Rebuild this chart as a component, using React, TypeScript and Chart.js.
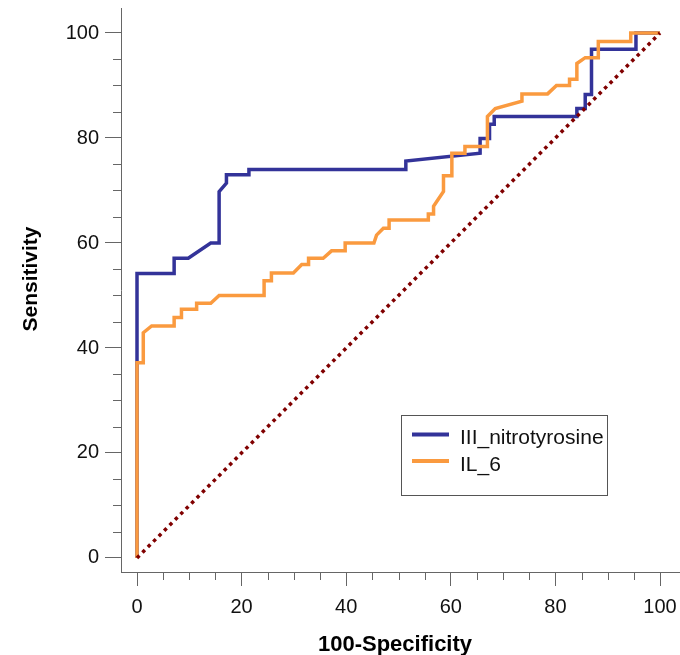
import React, { useEffect, useRef } from "react";
import { Chart, registerables } from "chart.js";

Chart.register(...registerables);

// ---------- data ----------
const seriesNames = ["III_nitrotyrosine", "IL_6"];

const nitroX = [0, 0, 7.1, 7.1, 9.8, 14.1, 15.7, 15.7, 17.1, 17.1, 21.4, 21.4, 51.4, 51.4, 65.6, 65.6, 67.4, 67.4, 68.3, 68.3, 84.1, 84.1, 85.7, 85.7, 86.9, 86.9, 95.4, 95.4, 100];
const nitroY = [0, 54.2, 54.2, 57.1, 57.1, 60.0, 60.0, 69.8, 71.4, 73.0, 73.0, 74.0, 74.0, 75.6, 77.1, 79.9, 79.9, 82.6, 82.6, 84.1, 84.1, 85.6, 85.6, 88.3, 88.3, 96.9, 96.9, 100, 100];

const il6X = [0, 0, 1.2, 1.2, 2.8, 7.1, 7.1, 8.5, 8.5, 11.4, 11.4, 14.1, 15.7, 24.3, 24.3, 25.7, 25.7, 29.9, 31.5, 32.8, 32.8, 35.6, 37.2, 39.8, 39.8, 45.3, 45.8, 47.1, 48.2, 48.2, 55.7, 55.7, 56.7, 56.7, 58.6, 58.6, 60.2, 60.2, 62.7, 62.7, 67.0, 67.0, 68.5, 73.6, 73.6, 78.5, 80.2, 82.7, 82.7, 84.1, 84.1, 85.7, 88.2, 88.2, 94.4, 94.4, 100];
const il6Y = [0, 37.2, 37.2, 42.9, 44.2, 44.2, 45.8, 45.8, 47.4, 47.4, 48.5, 48.5, 50.0, 50.0, 52.8, 52.8, 54.3, 54.3, 55.9, 55.9, 57.1, 57.1, 58.5, 58.5, 60.0, 60.0, 61.5, 62.8, 62.8, 64.4, 64.4, 65.5, 65.5, 67.0, 69.8, 72.8, 72.8, 77.1, 77.1, 78.4, 78.4, 84.1, 85.6, 87.0, 88.4, 88.4, 90.0, 90.0, 91.2, 91.2, 94.2, 95.3, 95.3, 98.4, 98.4, 100, 100];

const refX = [0, 100];
const refY = [0, 100];

const tickValues = [0, 5, 10, 15, 20, 25, 30, 35, 40, 45, 50, 55, 60, 65, 70, 75, 80, 85, 90, 95, 100];
const labeledTicks = [0, 20, 40, 60, 80, 100];

const xTitle = "100-Specificity";
const yTitle = "Sensitivity";

// ---------- styles ----------
const FONT = "'Liberation Sans', Arial, Helvetica, sans-serif";
const AXIS_COLOR = "#666666";
const BLUE = "#333399";
const ORANGE = "#fa9a3f";
const DARKRED = "#800000";

const toPoints = (xs: number[], ys: number[]) => xs.map((x, i) => ({ x, y: ys[i] }));

const isMajor = (v: number) => labeledTicks.includes(v);

const decorPlugin = {
  id: "decor",
  afterDraw(chart: any) {
    const ctx = chart.ctx as CanvasRenderingContext2D;
    const xs = chart.scales.x;
    const ys = chart.scales.y;
    const area = chart.chartArea;
    ctx.save();
    // minor ticks
    ctx.strokeStyle = AXIS_COLOR;
    ctx.lineWidth = 1;
    ctx.beginPath();
    tickValues.forEach((v) => {
      if (isMajor(v)) return;
      const px = Math.round(xs.getPixelForValue(v)) + 0.5;
      ctx.moveTo(px, area.bottom);
      ctx.lineTo(px, area.bottom + 8);
      const py = Math.round(ys.getPixelForValue(v)) + 0.5;
      ctx.moveTo(area.left, py);
      ctx.lineTo(area.left - 8, py);
    });
    ctx.stroke();

    // axis titles
    ctx.fillStyle = "#000";
    ctx.font = `bold 22px ${FONT}`;
    ctx.textAlign = "center";
    ctx.textBaseline = "alphabetic";
    ctx.fillText(xTitle, 395, 651);
    ctx.save();
    ctx.translate(37, 279);
    ctx.rotate(-Math.PI / 2);
    ctx.font = `bold 21px ${FONT}`;
    ctx.fillText(yTitle, 0, 0);
    ctx.restore();

    // legend
    const bx = 401.5, by = 415.5, bw = 206, bh = 80;
    ctx.fillStyle = "#ffffff";
    ctx.fillRect(bx, by, bw, bh);
    ctx.strokeStyle = "#555555";
    ctx.lineWidth = 1;
    ctx.strokeRect(bx, by, bw, bh);
    const rows = [
      { y: 434.5, base: 444, color: chart.data.datasets[0].borderColor, label: chart.data.datasets[0].label },
      { y: 461, base: 470.5, color: chart.data.datasets[1].borderColor, label: chart.data.datasets[1].label },
    ];
    rows.forEach((r) => {
      ctx.strokeStyle = r.color;
      ctx.lineWidth = 4;
      ctx.beginPath();
      ctx.moveTo(412, r.y);
      ctx.lineTo(449, r.y);
      ctx.stroke();
      ctx.fillStyle = "#111";
      ctx.font = `21px ${FONT}`;
      ctx.textAlign = "left";
      ctx.textBaseline = "alphabetic";
      ctx.fillText(r.label, 460, r.base);
    });
    ctx.restore();
  },
};

export default function App() {
  const canvasRef = useRef<HTMLCanvasElement | null>(null);

  useEffect(() => {
    if (!canvasRef.current) return;
    const chart = new Chart(canvasRef.current, {
      type: "line",
      data: {
        datasets: [
          {
            label: seriesNames[0],
            data: toPoints(nitroX, nitroY),
            borderColor: BLUE,
            backgroundColor: BLUE,
            borderWidth: 3.5,
            pointRadius: 0,
            tension: 0,
            fill: false,
            order: 2,
          },
          {
            label: seriesNames[1],
            data: toPoints(il6X, il6Y),
            borderColor: ORANGE,
            backgroundColor: ORANGE,
            borderWidth: 3.5,
            pointRadius: 0,
            tension: 0,
            fill: false,
            order: 1,
          },
          {
            label: "reference",
            data: toPoints(refX, refY),
            borderColor: DARKRED,
            backgroundColor: DARKRED,
            borderWidth: 3.5,
            borderDash: [3.5, 4.2],
            pointRadius: 0,
            tension: 0,
            fill: false,
            order: 0,
          },
        ],
      },
      options: {
        responsive: false,
        animation: false,
        events: [],
        layout: { padding: { top: 8, left: 0, right: 0, bottom: 0 } },
        plugins: {
          legend: { display: false },
          tooltip: { enabled: false },
          title: { display: false },
        },
        scales: {
          x: {
            type: "linear",
            min: -3.06,
            max: 103.82,
            afterBuildTicks: (s: any) => {
              s.ticks = tickValues.map((v) => ({ value: v }));
            },
            afterFit: (s: any) => {
              s.height = 83;
              s.paddingLeft = 0;
              s.paddingRight = 0;
            },
            ticks: {
              autoSkip: false,
              maxRotation: 0,
              padding: 9,
              color: "#111",
              font: { family: FONT, size: 20 },
              callback: (v: any) => (isMajor(Number(v)) ? String(v) : ""),
            },
            grid: {
              drawOnChartArea: false,
              drawTicks: true,
              tickLength: 14,
              tickColor: (c: any) => (c.tick && isMajor(c.tick.value) ? AXIS_COLOR : "rgba(0,0,0,0)"),
            },
            border: { display: true, color: AXIS_COLOR, width: 1 },
            title: { display: false },
          },
          y: {
            type: "linear",
            min: -2.67,
            max: 104.76,
            afterBuildTicks: (s: any) => {
              s.ticks = tickValues.map((v) => ({ value: v }));
            },
            afterFit: (s: any) => {
              s.width = 121;
              s.paddingTop = 0;
              s.paddingBottom = 0;
            },
            ticks: {
              autoSkip: false,
              padding: 6,
              color: "#111",
              font: { family: FONT, size: 20 },
              callback: (v: any) => (isMajor(Number(v)) ? String(v) : ""),
            },
            grid: {
              drawOnChartArea: false,
              drawTicks: true,
              tickLength: 16,
              tickColor: (c: any) => (c.tick && isMajor(c.tick.value) ? AXIS_COLOR : "rgba(0,0,0,0)"),
            },
            border: { display: true, color: AXIS_COLOR, width: 1 },
            title: { display: false },
          },
        },
      },
      plugins: [decorPlugin],
    } as any);
    return () => chart.destroy();
  }, []);

  return (
    <div style={{ position: "absolute", left: 0, top: 0, width: 680, height: 655 }}>
      <canvas ref={canvasRef} width={680} height={655} style={{ display: "block", width: 680, height: 655 }} />
    </div>
  );
}
